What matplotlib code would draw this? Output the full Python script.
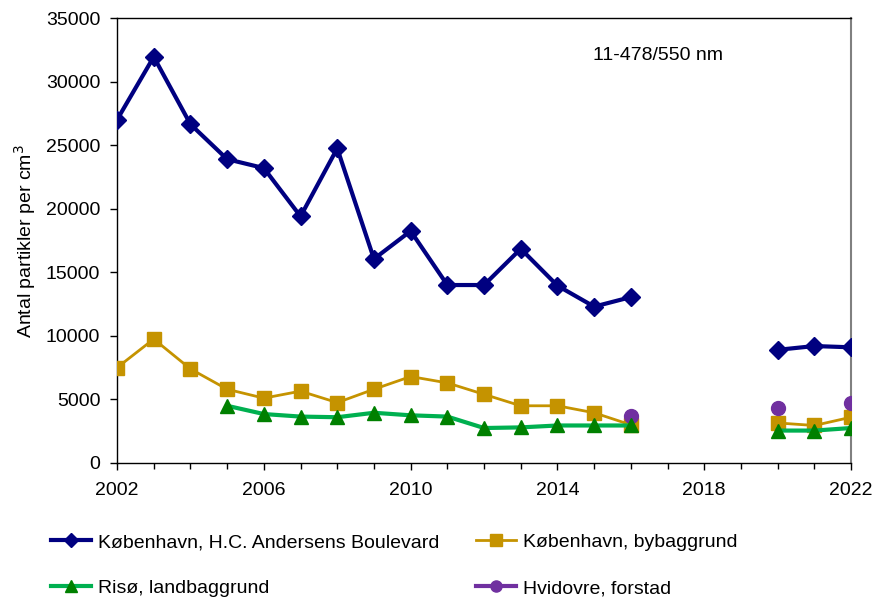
import matplotlib.pyplot as plt
from matplotlib.ticker import MultipleLocator, FixedLocator
import numpy as np

plt.rcParams['font.family'] = ['Liberation Sans', 'DejaVu Sans']

nan = np.nan
years = list(range(2002, 2023))

# Particle number concentrations, 11-478/550 nm (gaps = no measurements)
hca_boulevard = [27000, 31950, 26650, 23900, 23200, 19400, 24750, 16050, 18250, 14000,
                 14000, 16850, 13950, 12300, 13050, nan, nan, nan, 8900, 9200, 9100]
bybaggrund = [7500, 9750, 7400, 5800, 5100, 5650, 4750, 5800, 6800, 6300,
              5400, 4500, 4500, 3950, 3000, nan, nan, nan, 3150, 2950, 3600]
landbaggrund = [nan, nan, nan, 4500, 3850, 3650, 3600, 3950, 3750, 3650,
                2750, 2800, 2950, 2950, 2950, nan, nan, nan, 2550, 2550, 2750]
forstad = [nan, nan, nan, nan, nan, nan, nan, nan, nan, nan,
           nan, nan, nan, nan, 3700, nan, nan, nan, 4300, nan, 4700]

labels = ["København, H.C. Andersens Boulevard", "København, bybaggrund",
          "Risø, landbaggrund", "Hvidovre, forstad"]
year_ticks = [2002, 2006, 2010, 2014, 2018, 2022]

fs = 14

fig = plt.figure(figsize=(8.82, 6.03), dpi=100)
ax = fig.add_axes([0.1327, 0.2322, 0.8322, 0.7378])

l1, = ax.plot(years, hca_boulevard, color='#000080', lw=3, marker='D', ms=9,
              markeredgecolor='#000080', markerfacecolor='#000080', zorder=4)
l2, = ax.plot(years, bybaggrund, color='#C59300', lw=2, marker='s', ms=10,
              markeredgecolor='#C59300', markerfacecolor='#C59300', zorder=3)
l3, = ax.plot(years, landbaggrund, color='#00B050', lw=3, marker='^', ms=10,
              markeredgecolor='#008000', markerfacecolor='#008000', zorder=3.5)
l4, = ax.plot(years, forstad, color='#7030A0', lw=3, marker='o', ms=10,
              markeredgecolor='#7030A0', markerfacecolor='#7030A0', zorder=3.2)

ax.set_xlim(2002, 2022)
ax.set_ylim(0, 35000)
ax.xaxis.set_major_locator(FixedLocator(year_ticks))
ax.xaxis.set_minor_locator(MultipleLocator(1))
ax.yaxis.set_major_locator(MultipleLocator(5000))
ax.tick_params(axis='both', which='both', direction='out', length=5, width=1,
               labelsize=fs, colors='black')
ax.tick_params(axis='x', pad=9)
ax.tick_params(axis='y', pad=7)
ax.tick_params(axis='both', which='minor', length=4)

for side in ['left', 'bottom', 'top']:
    ax.spines[side].set_color('black')
    ax.spines[side].set_linewidth(1)
ax.spines['right'].set_color('#808080')
ax.spines['right'].set_linewidth(1.5)

ax.set_ylabel("Antal partikler per cm$^3$", fontsize=fs, labelpad=6)
ax.text(0.737, 0.915, "11-478/550 nm", transform=ax.transAxes, ha='center',
        va='center', fontsize=fs)

fig.legend([l1, l3, l2, l4], [labels[0], labels[2], labels[1], labels[3]],
           loc='upper left', bbox_to_anchor=(0.049, 0.128), ncol=2, frameon=False,
           fontsize=fs, handlelength=2.05, handletextpad=0.35, labelspacing=1.45,
           columnspacing=1.9, borderaxespad=0, markerscale=0.8)

fig.savefig('out.png', dpi=100)
